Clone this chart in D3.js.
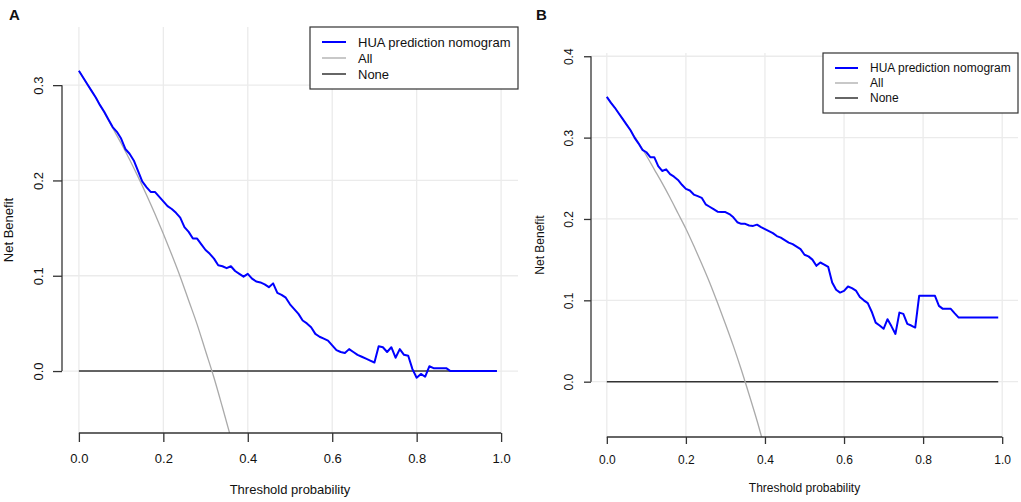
<!DOCTYPE html>
<html>
<head>
<meta charset="utf-8">
<script src="https://cdn.jsdelivr.net/npm/d3@7"></script>
<style>
  body { margin: 0; background: #fff; }
  svg { display: block; font-family: 'Liberation Sans', Arial, sans-serif; }
</style>
</head>
<body>
<svg id="chart" width="1021" height="502"></svg>
<script>
// ---- data ----
const xTicks = [0, 0.2, 0.4, 0.6, 0.8, 1.0];
const yTicksA = [0, 0.1, 0.2, 0.3];
const yTicksB = [0, 0.1, 0.2, 0.3, 0.4];
const legendLabels = ['HUA prediction nomogram', 'All', 'None'];

// panel A - nomogram
const thrA = [0, 0.01, 0.02, 0.03, 0.04, 0.05, 0.06, 0.07, 0.08, 0.09,
  0.10, 0.11, 0.12, 0.13, 0.14, 0.15, 0.16, 0.17, 0.18, 0.19,
  0.20, 0.21, 0.22, 0.23, 0.24, 0.25, 0.26, 0.27, 0.28, 0.29,
  0.30, 0.31, 0.32, 0.33, 0.34, 0.35, 0.36, 0.37, 0.38, 0.39,
  0.40, 0.41, 0.42, 0.43, 0.44, 0.45, 0.46, 0.47, 0.48, 0.49,
  0.50, 0.51, 0.52, 0.53, 0.54, 0.55, 0.56, 0.57, 0.58, 0.59,
  0.60, 0.61, 0.62, 0.63, 0.64, 0.65, 0.66, 0.67, 0.68, 0.69,
  0.70, 0.71, 0.72, 0.73, 0.74, 0.75, 0.76, 0.77, 0.78, 0.79,
  0.80, 0.81, 0.82, 0.83, 0.84, 0.85, 0.86, 0.87, 0.88, 0.99];
const nbA = [0.315, 0.308, 0.301, 0.294, 0.287, 0.279, 0.272, 0.264, 0.256, 0.251,
  0.244, 0.233, 0.228, 0.221, 0.210, 0.199, 0.193, 0.188, 0.188, 0.183,
  0.178, 0.173, 0.170, 0.166, 0.161, 0.151, 0.146, 0.139, 0.139, 0.133,
  0.127, 0.123, 0.118, 0.111, 0.110, 0.108, 0.110, 0.105, 0.102, 0.099,
  0.102, 0.097, 0.094, 0.093, 0.091, 0.088, 0.092, 0.082, 0.080, 0.077,
  0.070, 0.065, 0.060, 0.053, 0.050, 0.046, 0.039, 0.036, 0.034, 0.032,
  0.027, 0.022, 0.020, 0.019, 0.023, 0.020, 0.017, 0.015, 0.013, 0.011,
  0.009, 0.026, 0.025, 0.020, 0.025, 0.014, 0.023, 0.017, 0.016, 0.002,
  -0.007, -0.003, -0.006, 0.005, 0.003, 0.003, 0.003, 0.003, 0, 0];

// panel A - treat all
const allThrA = [0, 0.02, 0.04, 0.06, 0.08, 0.10, 0.12, 0.14, 0.16, 0.18,
  0.20, 0.22, 0.24, 0.26, 0.28, 0.30, 0.32, 0.34, 0.36];
const allA = [0.315, 0.301, 0.287, 0.271, 0.255, 0.239, 0.222, 0.204, 0.185, 0.165,
  0.144, 0.122, 0.099, 0.074, 0.049, 0.021, -0.007, -0.038, -0.070];

// panel B - nomogram
const thrB = [0, 0.01, 0.02, 0.03, 0.04, 0.05, 0.06, 0.07, 0.08, 0.09,
  0.10, 0.11, 0.12, 0.13, 0.14, 0.15, 0.16, 0.17, 0.18, 0.19,
  0.20, 0.21, 0.22, 0.23, 0.24, 0.25, 0.26, 0.27, 0.28, 0.29,
  0.30, 0.31, 0.32, 0.33, 0.34, 0.35, 0.36, 0.37, 0.38, 0.39,
  0.40, 0.41, 0.42, 0.43, 0.44, 0.45, 0.46, 0.47, 0.48, 0.49,
  0.50, 0.51, 0.52, 0.53, 0.54, 0.55, 0.56, 0.57, 0.58, 0.59,
  0.60, 0.61, 0.62, 0.63, 0.64, 0.65, 0.66, 0.67, 0.68, 0.69,
  0.70, 0.71, 0.72, 0.73, 0.74, 0.75, 0.76, 0.77, 0.78, 0.79,
  0.80, 0.81, 0.82, 0.83, 0.84, 0.85, 0.86, 0.87, 0.88, 0.89, 0.99];
const nbB = [0.350, 0.343, 0.337, 0.330, 0.323, 0.316, 0.309, 0.300, 0.293, 0.285,
  0.282, 0.276, 0.276, 0.265, 0.259, 0.261, 0.255, 0.252, 0.248, 0.242,
  0.237, 0.235, 0.230, 0.228, 0.226, 0.218, 0.215, 0.212, 0.209, 0.2085,
  0.2085, 0.206, 0.202, 0.196, 0.194, 0.194, 0.192, 0.1915, 0.193, 0.190,
  0.1875, 0.185, 0.1826, 0.179, 0.177, 0.174, 0.171, 0.169, 0.166, 0.163,
  0.156, 0.154, 0.150, 0.1424, 0.1465, 0.144, 0.141, 0.122, 0.113, 0.1095,
  0.1116, 0.117, 0.115, 0.112, 0.104, 0.100, 0.0965, 0.086, 0.0726, 0.069,
  0.065, 0.0768, 0.068, 0.0587, 0.0849, 0.0833, 0.071, 0.069, 0.0665, 0.1055,
  0.1055, 0.1055, 0.1055, 0.1055, 0.0932, 0.0895, 0.0895, 0.0895, 0.084, 0.0788, 0.0788];

// panel B - treat all
const allThrB = [0, 0.02, 0.04, 0.06, 0.08, 0.10, 0.12, 0.14, 0.16, 0.18,
  0.20, 0.22, 0.24, 0.26, 0.28, 0.30, 0.32, 0.34, 0.36, 0.38, 0.40];
const allB = [0.350, 0.337, 0.323, 0.309, 0.294, 0.278, 0.261, 0.244, 0.226, 0.207,
  0.188, 0.167, 0.145, 0.122, 0.097, 0.071, 0.044, 0.015, -0.016, -0.048, -0.083];

// treat none
const noneThr = [0, 0.99];
const noneNb = [0, 0];

const svg = d3.select('#chart');

const panels = [
  {id: 'A', left: 62, right: 518, top: 27, bottom: 433,
   xDomain: [-0.04, 1.04], yDomain: [-0.065, 0.361], yTicks: yTicksA,
   thr: thrA, nb: nbA, allThr: allThrA, all: allA,
   font: 13, tick: 9, xLabOff: 30, yLabOff: 19, titleY: 494,
   yTitleX: 13, letterX: 9,
   legend: {x: 310, y: 27, w: 208, h: 62, row: 16, line: 24}},
  {id: 'B', left: 591, right: 1018, top: 53, bottom: 437,
   xDomain: [-0.04, 1.04], yDomain: [-0.068, 0.404], yTicks: yTicksB,
   thr: thrB, nb: nbB, allThr: allThrB, all: allB,
   font: 12, tick: 7, xLabOff: 27, yLabOff: 18, titleY: 492,
   yTitleX: 544, letterX: 536,
   legend: {x: 823, y: 53, w: 195, h: 60, row: 15, line: 23}}
];

function drawPanel(p) {
  const x = d3.scaleLinear().domain(p.xDomain).range([p.left, p.right]);
  const y = d3.scaleLinear().domain(p.yDomain).range([p.bottom, p.top]);
  const g = svg.append('g').attr('class', 'panel' + p.id);

  g.append('clipPath').attr('id', 'clip' + p.id)
    .append('rect')
    .attr('x', p.left).attr('y', p.top)
    .attr('width', p.right - p.left).attr('height', p.bottom - p.top);

  // grid
  g.selectAll('.vgrid').data(xTicks).enter().append('line')
    .attr('x1', d => x(d)).attr('x2', d => x(d))
    .attr('y1', p.top).attr('y2', p.bottom)
    .attr('stroke', '#ebebeb').attr('stroke-width', 1.3);
  g.selectAll('.hgrid').data(p.yTicks).enter().append('line')
    .attr('x1', p.left).attr('x2', p.right)
    .attr('y1', d => y(d)).attr('y2', d => y(d))
    .attr('stroke', '#ebebeb').attr('stroke-width', 1.3);

  const line = d3.line().x(d => x(d[0])).y(d => y(d[1]));
  const plot = g.append('g').attr('clip-path', 'url(#clip' + p.id + ')');

  // treat none
  plot.append('path')
    .datum(noneThr.map((t, i) => [t, noneNb[i]]))
    .attr('d', line).attr('fill', 'none')
    .attr('stroke', '#333').attr('stroke-width', 1.5);
  // treat all
  plot.append('path')
    .datum(p.allThr.map((t, i) => [t, p.all[i]]))
    .attr('d', d3.line().curve(d3.curveMonotoneX).x(d => x(d[0])).y(d => y(d[1])))
    .attr('fill', 'none')
    .attr('stroke', '#aaaaaa').attr('stroke-width', 1.3);
  // nomogram
  plot.append('path')
    .datum(p.thr.map((t, i) => [t, p.nb[i]]))
    .attr('d', line).attr('fill', 'none')
    .attr('stroke', '#0000ff').attr('stroke-width', 2)
    .attr('stroke-linejoin', 'round');

  // x axis (line only between first and last tick, like base R)
  const xAxis = g.append('g')
    .attr('transform', `translate(0,${p.bottom})`)
    .attr('color', '#333')
    .call(d3.axisBottom(x).tickValues(xTicks).tickSize(p.tick).tickFormat(d3.format('.1f')));
  xAxis.select('.domain').remove();
  xAxis.append('line')
    .attr('x1', x(0)).attr('x2', x(1))
    .attr('stroke', '#333').attr('stroke-width', 1.3);
  xAxis.selectAll('.tick line').attr('stroke-width', 1.3);
  xAxis.selectAll('text')
    .attr('y', p.xLabOff).attr('dy', null)
    .attr('fill', '#111')
    .style('font-size', p.font + 'px')
    .style('font-family', "'Liberation Sans', Arial, sans-serif");

  // y axis
  const yMax = p.yTicks[p.yTicks.length - 1];
  const yAxis = g.append('g')
    .attr('transform', `translate(${p.left},0)`)
    .attr('color', '#333')
    .call(d3.axisLeft(y).tickValues(p.yTicks).tickSize(p.tick).tickFormat(d3.format('.1f')));
  yAxis.select('.domain').remove();
  yAxis.append('line')
    .attr('y1', y(0)).attr('y2', y(yMax))
    .attr('stroke', '#333').attr('stroke-width', 1.3);
  yAxis.selectAll('.tick line').attr('stroke-width', 1.3);
  yAxis.selectAll('text')
    .attr('x', 0).attr('y', -p.yLabOff).attr('dy', null)
    .attr('transform', 'rotate(-90)')
    .attr('text-anchor', 'middle')
    .attr('fill', '#111')
    .style('font-size', p.font + 'px')
    .style('font-family', "'Liberation Sans', Arial, sans-serif");

  // axis titles
  g.append('text')
    .attr('x', (p.left + p.right) / 2).attr('y', p.titleY)
    .attr('text-anchor', 'middle')
    .style('font-size', p.font + 'px').attr('fill', '#111')
    .text('Threshold probability');
  g.append('text')
    .attr('transform', `translate(${p.yTitleX},${(p.top + p.bottom) / 2}) rotate(-90)`)
    .attr('text-anchor', 'middle')
    .style('font-size', p.font + 'px').attr('fill', '#111')
    .text('Net Benefit');

  // panel letter
  g.append('text')
    .attr('x', p.letterX).attr('y', 20)
    .style('font-size', '15px').style('font-weight', 'bold').attr('fill', '#111')
    .text(p.id);

  // legend
  const lg = p.legend;
  const legColors = ['#0000ff', '#aaaaaa', '#333'];
  const legWidths = [2, 1.3, 1.5];
  const leg = g.append('g').attr('transform', `translate(${lg.x},${lg.y})`);
  leg.append('rect')
    .attr('width', lg.w).attr('height', lg.h)
    .attr('fill', '#fff').attr('stroke', '#333').attr('stroke-width', 1.2);
  const rows = leg.selectAll('.row').data(legendLabels).enter().append('g')
    .attr('transform', (d, i) => `translate(0,${lg.h / 2 + (i - 1) * lg.row})`);
  rows.append('line')
    .attr('x1', 12).attr('x2', 12 + lg.line)
    .attr('stroke', (d, i) => legColors[i])
    .attr('stroke-width', (d, i) => legWidths[i]);
  rows.append('text')
    .attr('x', 24 + lg.line).attr('y', p.font * 0.36)
    .style('font-size', p.font + 'px').attr('fill', '#111')
    .text(d => d);
}

panels.forEach(drawPanel);
</script>
</body>
</html>
